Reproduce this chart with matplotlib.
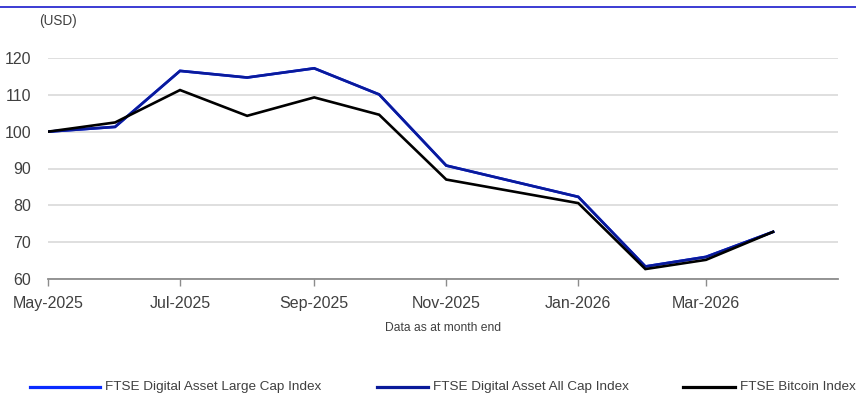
import matplotlib
matplotlib.use("Agg")
import matplotlib.pyplot as plt
import matplotlib.dates as mdates
from matplotlib.lines import Line2D
import numpy as np
import pandas as pd

# Month-end index levels (USD), rebased to 100
months = ["2025-05", "2025-06", "2025-07", "2025-08", "2025-09", "2025-10",
          "2025-11", "2026-01", "2026-02", "2026-03", "2026-04"]
large_cap = [100.0, 101.3, 116.5, 114.7, 117.2, 110.1, 90.8, 82.3, 63.4, 66.0, 72.8]
all_cap = [100.0, 101.3, 116.5, 114.7, 117.2, 110.1, 90.8, 82.3, 63.4, 66.0, 72.8]
bitcoin = [100.0, 102.5, 111.3, 104.3, 109.3, 104.6, 87.0, 80.6, 62.7, 65.2, 72.8]

series_names = ["FTSE Digital Asset Large Cap Index",
                "FTSE Digital Asset All Cap Index",
                "FTSE Bitcoin Index"]
series_colors = ["#0A2BFF", "#0A1A9A", "#000000"]
y_ticks = [60, 70, 80, 90, 100, 110, 120]
x_tick_months = ["2025-05", "2025-07", "2025-09", "2025-11", "2026-01", "2026-03"]

plt.rcParams["font.family"] = ["Liberation Sans", "DejaVu Sans"]
W, H = 856, 395
fig = plt.figure(figsize=(W / 100, H / 100), dpi=100)
ax = fig.add_axes([48 / W, 1 - 279 / H, (838 - 48) / W, (279 - 58) / H])

x = pd.to_datetime(months)
for vals, col in zip([large_cap, all_cap, bitcoin], series_colors):
    ax.plot(x, vals, color=col, lw=1.9, solid_joinstyle="miter", zorder=3)

ax.set_xlim(pd.Timestamp("2025-05-01"), pd.Timestamp("2026-05-01"))
ax.set_ylim(60, 120)
ax.set_yticks(y_ticks)
ax.set_xticks(pd.to_datetime(x_tick_months))
ax.xaxis.set_major_formatter(mdates.DateFormatter("%b-%Y"))

ax.grid(axis="y", color="#d9d9d9", lw=1.2, zorder=0)
for s in ["top", "right", "left"]:
    ax.spines[s].set_visible(False)
ax.spines["bottom"].set_color("#8c8c8c")
ax.spines["bottom"].set_linewidth(1.3)
ax.tick_params(axis="y", length=0, pad=12, labelsize=11.5, labelcolor="#404040")
ax.tick_params(axis="x", length=5, width=1, color="#8c8c8c", pad=7,
               labelsize=11.5, labelcolor="#404040")

fig.text(39 / W, 1 - 21 / H, "(USD)", fontsize=9.8, color="#404040", va="center")
fig.text(443 / W, 1 - 328 / H, "Data as at month end", fontsize=8.7,
         color="#404040", ha="center", va="center")

# top rule
fig.add_artist(Line2D([0, 1], [1 - 7 / H, 1 - 7 / H], color="#1a1acc", lw=1.2,
                      transform=fig.transFigure))

# legend row
leg_line = [(30, 100), (377, 428), (683, 735)]
leg_y = 1 - 387 / H
for (x0, x1), name, col in zip(leg_line, series_names, series_colors):
    fig.add_artist(Line2D([x0 / W, x1 / W], [leg_y, leg_y], color=col,
                          lw=2.3, transform=fig.transFigure))
    fig.text((x1 + 5) / W, leg_y, name, fontsize=9.7, color="#404040", va="center")

fig.savefig("out.png", dpi=100)
